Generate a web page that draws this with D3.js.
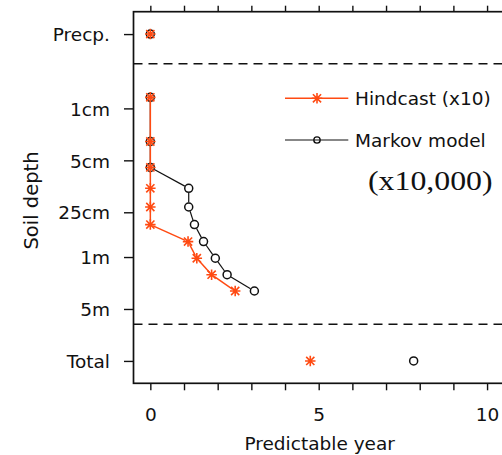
<!DOCTYPE html>
<html>
<head>
<meta charset="utf-8">
<script src="https://cdn.jsdelivr.net/npm/d3@7"></script>
<style>
  html, body { margin: 0; padding: 0; background: #fff; overflow: hidden; }
  svg { display: block; }
  text { font-family: "DejaVu Sans", sans-serif; fill: #111; }
</style>
</head>
<body>
<script>
// Soil layer node depths (m) and predictable years per layer
const layerDepths = [0.0071, 0.0279, 0.0623, 0.1189, 0.2122, 0.3661, 0.6198, 1.0380, 1.7276, 2.8646];
const hindcastLayers = [0, 0, 0, 0, 0, 0, 1.12, 1.38, 1.82, 2.52];
const markovLayers   = [0, 0, 0, 1.14, 1.14, 1.31, 1.58, 1.93, 2.28, 3.09];

// Precipitation and total rows, placed above / below the soil column
const precpDepth = 0.001, totalDepth = 25;
const hindcastPrecp = 0, markovPrecp = 0;
const hindcastTotal = 4.75, markovTotal = 7.82;

// Separators between precipitation / soil / total rows
const separatorDepths = [0.0025, 8];

// Axis ticks
const yTickValues = [0.001, 0.01, 0.05, 0.25, 1, 5, 25];
const yTickLabels = ["Precp.", "1cm", "5cm", "25cm", "1m", "5m", "Total"];
const xTickValues = [0, 1, 2, 3, 4, 5, 6, 7, 8, 9, 10];
const xTickLabels = {0: "0", 5: "5", 10: "10"};

const W = 502, H = 455;
const orange = "#ff4a12";

const svg = d3.select("body").append("svg").attr("width", W).attr("height", H);

const x = d3.scaleLinear().domain([-0.5, 10.5]).range([133.5, 503.9]);
const y = d3.scaleLog().domain([0.0005, 50]).range([11.7, 383.3]);

const [x0, x1] = x.range();
const [y0, y1] = y.range();

// Bottom axis
const xAxis = d3.axisBottom(x).tickValues(xTickValues).tickSize(7).tickPadding(18)
  .tickFormat(d => xTickLabels[d] || "");
const gx = svg.append("g").attr("transform", `translate(0,${y1})`).call(xAxis);
gx.select(".domain").remove();
gx.selectAll(".tick line").attr("stroke", "#111").attr("stroke-width", 1.4);
gx.selectAll("text").style("font-size", "18.5px").attr("fill", "#111");

// Top axis (ticks only)
const xTop = d3.axisTop(x).tickValues(xTickValues).tickSize(6).tickFormat("");
const gt = svg.append("g").attr("transform", `translate(0,${y0})`).call(xTop);
gt.select(".domain").remove();
gt.selectAll(".tick line").attr("stroke", "#111").attr("stroke-width", 1.4);

// Left axis
const yAxis = d3.axisLeft(y).tickValues(yTickValues).tickSize(9.5).tickPadding(14)
  .tickFormat((d, i) => yTickLabels[i]);
const gy = svg.append("g").attr("transform", `translate(${x0},0)`).call(yAxis);
gy.select(".domain").remove();
gy.selectAll(".tick line").attr("stroke", "#111").attr("stroke-width", 1.4);
gy.selectAll("text").style("font-size", "18.5px").attr("fill", "#111").attr("dy", "0.36em");

// Plot frame
svg.append("rect")
  .attr("x", x0).attr("y", y0).attr("width", x1 - x0).attr("height", y1 - y0)
  .attr("fill", "none").attr("stroke", "#111").attr("stroke-width", 1.7);

// Dashed separators
svg.selectAll(".sep").data(separatorDepths).enter().append("line")
  .attr("class", "sep")
  .attr("x1", x0).attr("x2", x1)
  .attr("y1", d => y(d)).attr("y2", d => y(d))
  .attr("stroke", "#111").attr("stroke-width", 1.5).attr("stroke-dasharray", "9,6");

// Axis titles
svg.append("text")
  .attr("x", (x0 + x1) / 2 + 1).attr("y", 450)
  .attr("text-anchor", "middle").style("font-size", "18.5px")
  .text("Predictable year");

svg.append("text")
  .attr("transform", `translate(38,${(y0 + y1) / 2 + 3}) rotate(-90)`)
  .attr("text-anchor", "middle").style("font-size", "19.5px")
  .text("Soil depth");

// Marker shapes
const asterisk = {
  draw(ctx, size) {
    const r = Math.sqrt(size) / 2, d = r * 0.78;
    ctx.moveTo(-r, 0); ctx.lineTo(r, 0);
    ctx.moveTo(0, -r); ctx.lineTo(0, r);
    ctx.moveTo(-d, -d); ctx.lineTo(d, d);
    ctx.moveTo(-d, d); ctx.lineTo(d, -d);
  }
};
const starPath = d3.symbol().type(asterisk).size(110)();
const circlePath = d3.symbol().type(d3.symbolCircle).size(Math.PI * 16)();
const legendCirclePath = d3.symbol().type(d3.symbolCircle).size(Math.PI * 10)();

// Line segments broken around each point
function gappedSegments(pts, gap) {
  const segs = [];
  for (let i = 1; i < pts.length; i++) {
    const [ax, ay] = pts[i - 1], [bx, by] = pts[i];
    const dx = bx - ax, dy = by - ay, len = Math.hypot(dx, dy);
    if (len <= 2 * gap) continue;
    const ux = dx / len, uy = dy / len;
    segs.push([ax + ux * gap, ay + uy * gap, bx - ux * gap, by - uy * gap]);
  }
  return segs;
}

function drawSeries(values, precp, total, color, path, gap, lw, mw, cls) {
  const pts = layerDepths.map((dep, i) => [x(values[i]), y(dep)]);
  const g = svg.append("g").attr("class", cls);
  g.selectAll("line").data(gappedSegments(pts, gap)).enter().append("line")
    .attr("x1", d => d[0]).attr("y1", d => d[1]).attr("x2", d => d[2]).attr("y2", d => d[3])
    .attr("stroke", color).attr("stroke-width", lw);
  const allPts = [[x(precp), y(precpDepth)], ...pts, [x(total), y(totalDepth)]];
  g.selectAll("path").data(allPts).enter().append("path")
    .attr("d", path)
    .attr("transform", d => `translate(${d[0]},${d[1]})`)
    .attr("fill", "none").attr("stroke", color).attr("stroke-width", mw);
}

drawSeries(markovLayers, markovPrecp, markovTotal, "#111", circlePath, 4.5, 1.2, 1.5, "markov");
drawSeries(hindcastLayers, hindcastPrecp, hindcastTotal, orange, starPath, 3, 1.5, 1.6, "hindcast");

// Legend
const legend = svg.append("g").attr("class", "legend");
const legendItems = [
  {label: "Hindcast (x10)", color: orange, path: starPath, lw: 1.5, mw: 1.6, cy: 98.3},
  {label: "Markov model", color: "#111", path: legendCirclePath, lw: 1.2, mw: 1.4, cy: 140}
];
legendItems.forEach(it => {
  legend.append("line")
    .attr("x1", 285).attr("x2", 348.3).attr("y1", it.cy).attr("y2", it.cy)
    .attr("stroke", it.color).attr("stroke-width", it.lw);
  legend.append("path").attr("d", it.path)
    .attr("transform", `translate(317,${it.cy})`)
    .attr("fill", "none").attr("stroke", it.color).attr("stroke-width", it.mw);
  legend.append("text")
    .attr("x", 355).attr("y", it.cy).attr("dy", "0.36em")
    .style("font-size", "18.5px").text(it.label);
});
legend.append("text")
  .attr("transform", "translate(368,190) scale(1.2,1)")
  .style("font-family", "'Liberation Serif', 'Times New Roman', serif")
  .style("font-size", "26.5px")
  .text("(x10,000)");
</script>
</body>
</html>
